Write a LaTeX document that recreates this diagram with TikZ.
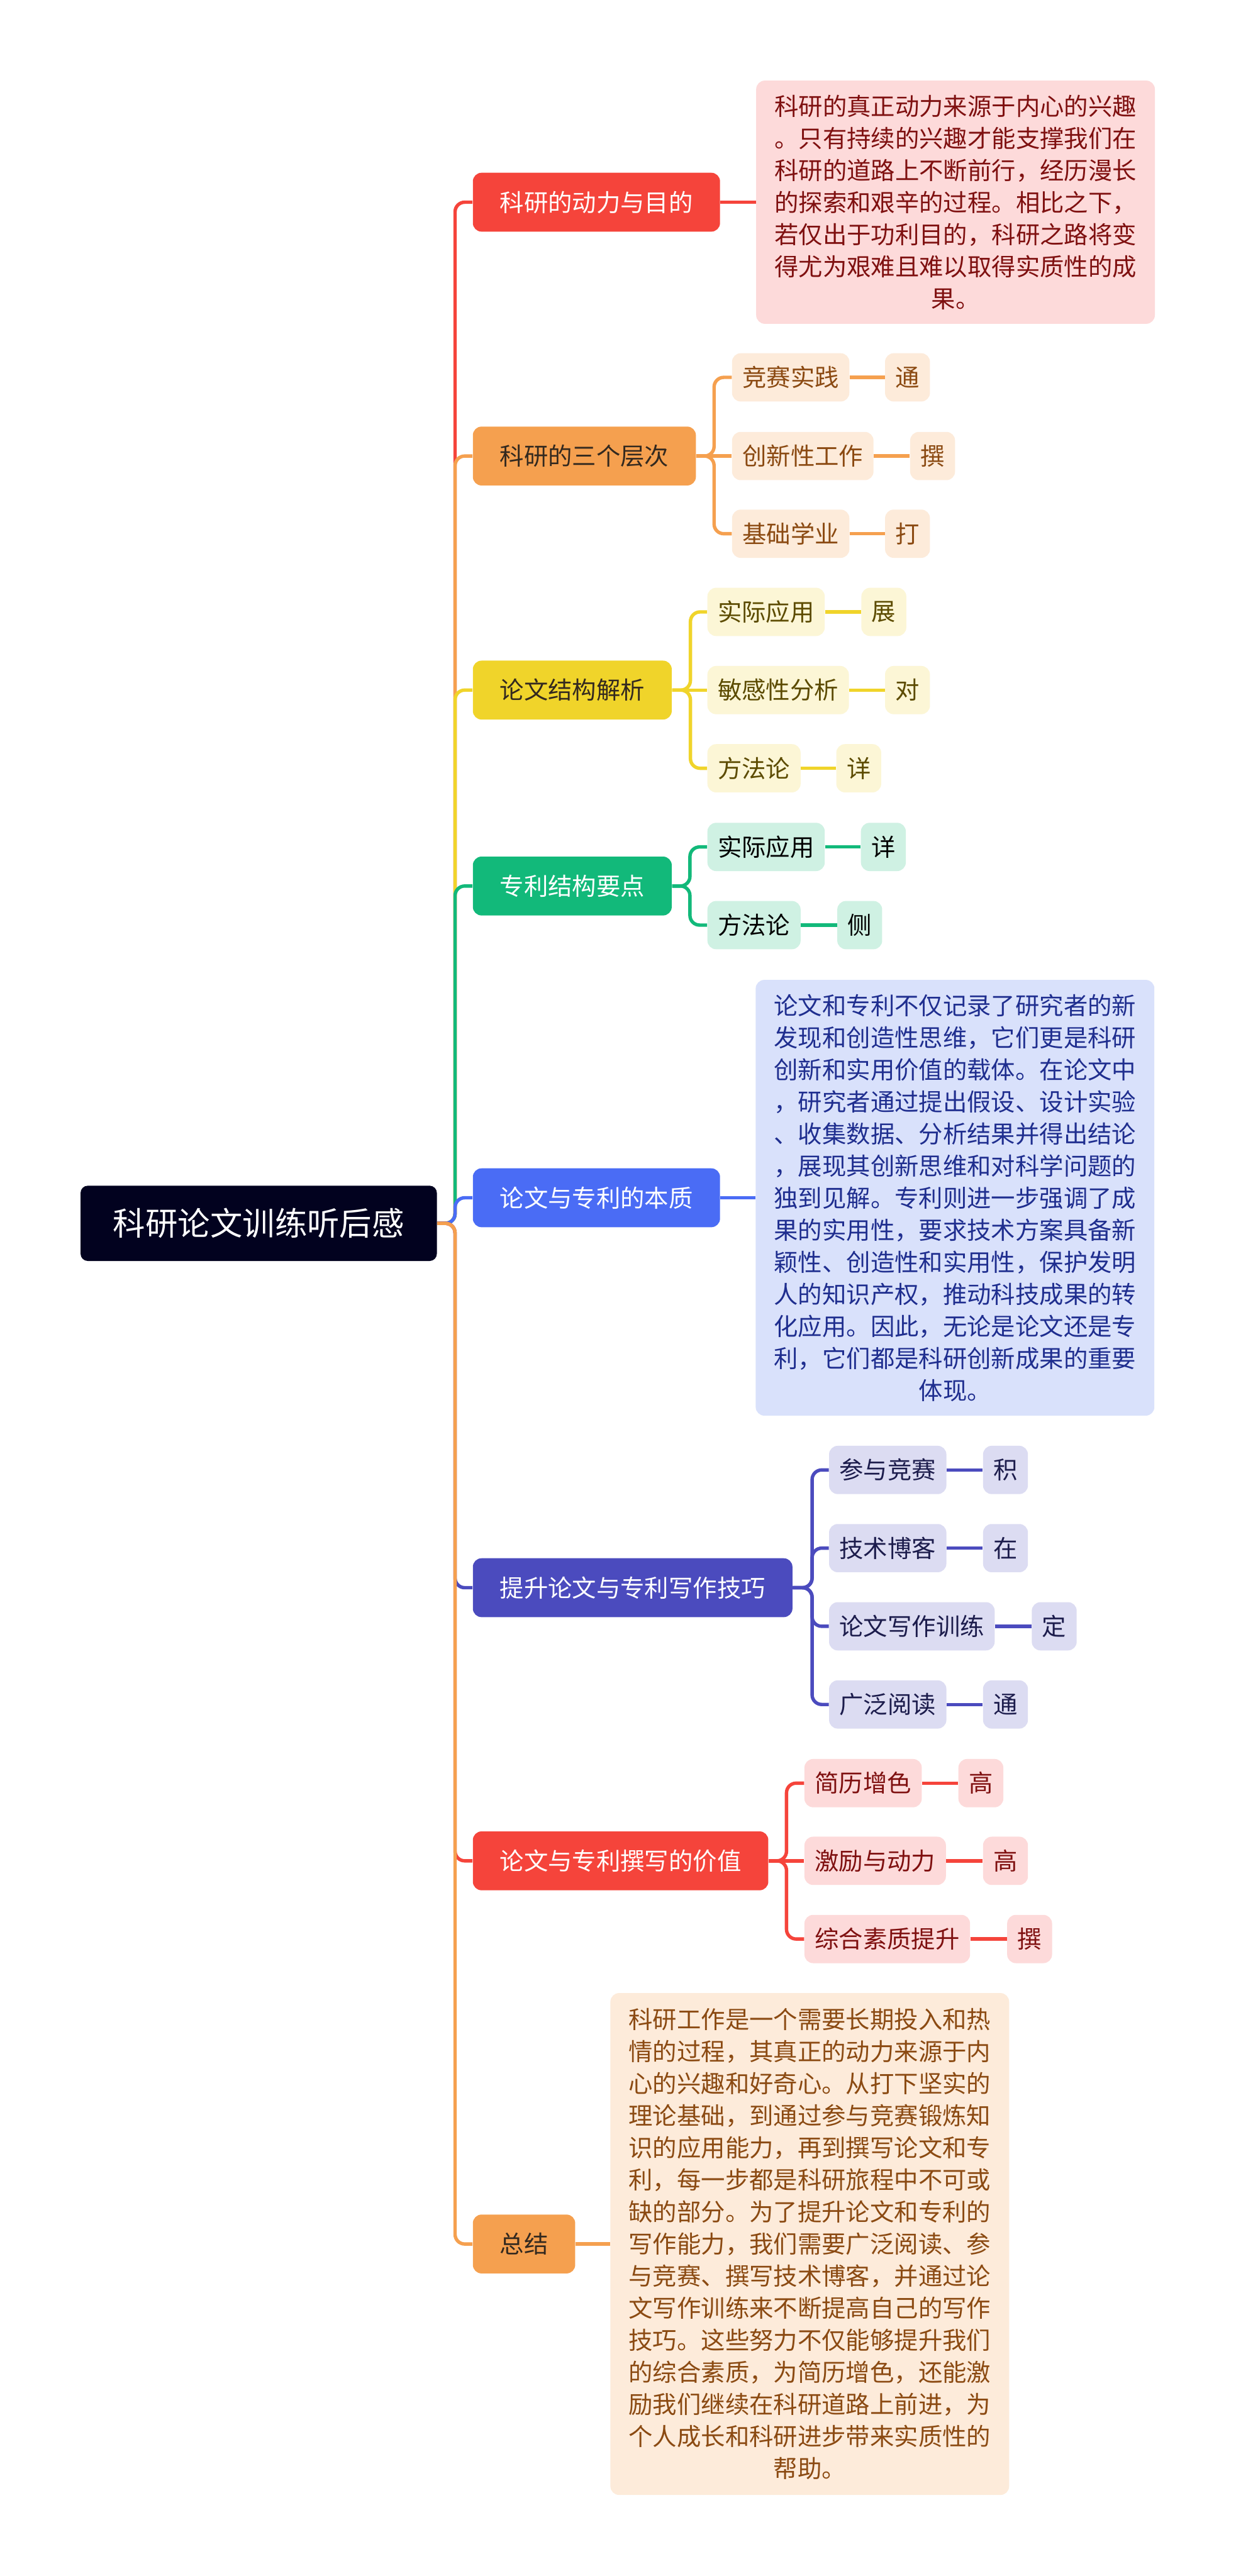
\documentclass[tikz,border=0pt]{standalone}
\usepackage{fontspec}
\newfontfamily\cjk{Noto Sans CJK SC}
\definecolor{rootdark}{HTML}{02021F}
\definecolor{bred}{HTML}{F5443B}
\definecolor{borange}{HTML}{F5A04F}
\definecolor{byellow}{HTML}{F0D42A}
\definecolor{bgreen}{HTML}{12B97A}
\definecolor{bblue}{HTML}{4A6CF5}
\definecolor{bindigo}{HTML}{4B4BBE}
\definecolor{lred}{HTML}{FDDADA}
\definecolor{lorange}{HTML}{FDEBDA}
\definecolor{lyellow}{HTML}{FCF6D6}
\definecolor{lgreen}{HTML}{CFF1E3}
\definecolor{lblue}{HTML}{D9E1FB}
\definecolor{lindigo}{HTML}{DCDCF2}
\definecolor{tred}{HTML}{7F1010}
\definecolor{torange}{HTML}{8B4A12}
\definecolor{tyellow}{HTML}{5C4B00}
\definecolor{tblue}{HTML}{1F2E8F}
\definecolor{tindigo}{HTML}{1C1C4C}
\definecolor{tdark}{HTML}{33291F}
\newcommand\bodyfont{\cjk\fontsize{14.23pt}{18.92pt}\selectfont}
\begin{document}
\begin{tikzpicture}[
  rootbox/.style={fill=rootdark, text=white, rounded corners=0.15cm, inner xsep=0.675cm, inner ysep=0pt, minimum height=1.56cm, font=\cjk\fontsize{19.07pt}{23pt}\selectfont},
  mainbox/.style={rounded corners=0.18cm, inner xsep=0.56cm, inner ysep=0pt, minimum height=1.22cm, anchor=west, font=\bodyfont},
  subbox/.style={rounded corners=0.18cm, inner xsep=0.215cm, inner ysep=0pt, minimum height=1cm, anchor=west, font=\bodyfont},
  notebox/.style={rounded corners=0.18cm, align=center, minimum width=8.26cm, inner sep=0pt, anchor=west, font=\bodyfont},
  link/.style={line width=2pt, rounded corners=0.2cm}
]
  \fill[white] (0,0) rectangle (25.6,-53.38);
  \useasboundingbox (0,0) rectangle (25.6,-53.38);
  % 根节点
  \node[rootbox] (root) at (5.36,-25.35) {科研论文训练听后感};
  % 一级分支
  \node[mainbox, fill=bred, text=white] (motive) at (9.79,-4.19) {科研的动力与目的};
  \node[mainbox, fill=borange, text=tdark] (levels) at (9.79,-9.45) {科研的三个层次};
  \node[mainbox, fill=byellow, text=tdark] (paper) at (9.79,-14.30) {论文结构解析};
  \node[mainbox, fill=bgreen, text=white] (patent) at (9.79,-18.36) {专利结构要点};
  \node[mainbox, fill=bblue, text=white] (essence) at (9.79,-24.82) {论文与专利的本质};
  \node[mainbox, fill=bindigo, text=white] (skills) at (9.79,-32.90) {提升论文与专利写作技巧};
  \node[mainbox, fill=bred, text=white] (value) at (9.79,-38.56) {论文与专利撰写的价值};
  \node[mainbox, fill=borange, text=tdark] (summary) at (9.79,-46.50) {总结};
  % 主干连线
  \draw[link, bred] (root.east) -- ++(0.37,0) |- (motive.west);
  \draw[link, borange] (root.east) -- ++(0.37,0) |- (levels.west);
  \draw[link, byellow] (root.east) -- ++(0.37,0) |- (paper.west);
  \draw[link, bgreen] (root.east) -- ++(0.37,0) |- (patent.west);
  \draw[link, bblue] (root.east) -- ++(0.37,0) |- (essence.west);
  \draw[link, bindigo] (root.east) -- ++(0.37,0) |- (skills.west);
  \draw[link, bred] (root.east) -- ++(0.37,0) |- (value.west);
  \draw[link, borange] (root.east) -- ++(0.37,0) |- (summary.west);
  % 科研的动力与目的
  \node[notebox, fill=lred, text=tred, minimum height=5.04cm] (motivenote) at (15.66,-4.19)
    {科研的真正动力来源于内心的兴趣\\。只有持续的兴趣才能支撑我们在\\科研的道路上不断前行，经历漫长\\的探索和艰辛的过程。相比之下，\\若仅出于功利目的，科研之路将变\\得尤为艰难且难以取得实质性的成\\果。};
  \draw[link, bred] (motive.east) -- (motivenote.west);
  % 科研的三个层次
  \node[subbox, fill=lorange, text=torange] (compete) at (15.16,-7.82) {竞赛实践};
  \node[subbox, fill=lorange, text=torange] (innovate) at (15.16,-9.45) {创新性工作};
  \node[subbox, fill=lorange, text=torange] (basics) at (15.16,-11.06) {基础学业};
  \node[subbox, fill=lorange, text=torange] (competex) at (18.33,-7.82) {通};
  \node[subbox, fill=lorange, text=torange] (innovatex) at (18.85,-9.45) {撰};
  \node[subbox, fill=lorange, text=torange] (basicsx) at (18.33,-11.06) {打};
  \draw[link, borange] (levels.east) -- ++(0.37,0) |- (compete.west);
  \draw[link, borange] (levels.east) -- (innovate.west);
  \draw[link, borange] (levels.east) -- ++(0.37,0) |- (basics.west);
  \draw[link, borange] (compete.east) -- (competex.west);
  \draw[link, borange] (innovate.east) -- (innovatex.west);
  \draw[link, borange] (basics.east) -- (basicsx.west);
  % 论文结构解析
  \node[subbox, fill=lyellow, text=tyellow] (papapp) at (14.65,-12.68) {实际应用};
  \node[subbox, fill=lyellow, text=tyellow] (papsens) at (14.65,-14.30) {敏感性分析};
  \node[subbox, fill=lyellow, text=tyellow] (papmeth) at (14.65,-15.92) {方法论};
  \node[subbox, fill=lyellow, text=tyellow] (papappx) at (17.84,-12.68) {展};
  \node[subbox, fill=lyellow, text=tyellow] (papsensx) at (18.33,-14.30) {对};
  \node[subbox, fill=lyellow, text=tyellow] (papmethx) at (17.32,-15.92) {详};
  \draw[link, byellow] (paper.east) -- ++(0.38,0) |- (papapp.west);
  \draw[link, byellow] (paper.east) -- (papsens.west);
  \draw[link, byellow] (paper.east) -- ++(0.38,0) |- (papmeth.west);
  \draw[link, byellow] (papapp.east) -- (papappx.west);
  \draw[link, byellow] (papsens.east) -- (papsensx.west);
  \draw[link, byellow] (papmeth.east) -- (papmethx.west);
  % 专利结构要点
  \node[subbox, fill=lgreen, text=black] (patapp) at (14.65,-17.55) {实际应用};
  \node[subbox, fill=lgreen, text=black] (patmeth) at (14.65,-19.17) {方法论};
  \node[subbox, fill=lgreen, text=black] (patappx) at (17.83,-17.55) {详};
  \node[subbox, fill=lgreen, text=black] (patmethx) at (17.34,-19.17) {侧};
  \draw[link, bgreen] (patent.east) -- ++(0.37,0) |- (patapp.west);
  \draw[link, bgreen] (patent.east) -- ++(0.37,0) |- (patmeth.west);
  \draw[link, bgreen] (patapp.east) -- (patappx.west);
  \draw[link, bgreen] (patmeth.east) -- (patmethx.west);
  % 论文与专利的本质
  \node[notebox, fill=lblue, text=tblue, minimum height=9.03cm] (essencenote) at (15.65,-24.82)
    {论文和专利不仅记录了研究者的新\\发现和创造性思维，它们更是科研\\创新和实用价值的载体。在论文中\\，研究者通过提出假设、设计实验\\、收集数据、分析结果并得出结论\\，展现其创新思维和对科学问题的\\独到见解。专利则进一步强调了成\\果的实用性，要求技术方案具备新\\颖性、创造性和实用性，保护发明\\人的知识产权，推动科技成果的转\\化应用。因此，无论是论文还是专\\利，它们都是科研创新成果的重要\\体现。};
  \draw[link, bblue] (essence.east) -- (essencenote.west);
  % 提升论文与专利写作技巧
  \node[subbox, fill=lindigo, text=tindigo] (contest) at (17.17,-30.46) {参与竞赛};
  \node[subbox, fill=lindigo, text=tindigo] (blog) at (17.17,-32.08) {技术博客};
  \node[subbox, fill=lindigo, text=tindigo] (training) at (17.17,-33.70) {论文写作训练};
  \node[subbox, fill=lindigo, text=tindigo] (reading) at (17.17,-35.32) {广泛阅读};
  \node[subbox, fill=lindigo, text=tindigo] (contestx) at (20.36,-30.46) {积};
  \node[subbox, fill=lindigo, text=tindigo] (blogx) at (20.36,-32.08) {在};
  \node[subbox, fill=lindigo, text=tindigo] (trainingx) at (21.37,-33.70) {定};
  \node[subbox, fill=lindigo, text=tindigo] (readingx) at (20.36,-35.32) {通};
  \draw[link, bindigo] (skills.east) -- ++(0.4,0) |- (contest.west);
  \draw[link, bindigo] (skills.east) -- ++(0.4,0) |- (blog.west);
  \draw[link, bindigo] (skills.east) -- ++(0.4,0) |- (training.west);
  \draw[link, bindigo] (skills.east) -- ++(0.4,0) |- (reading.west);
  \draw[link, bindigo] (contest.east) -- (contestx.west);
  \draw[link, bindigo] (blog.east) -- (blogx.west);
  \draw[link, bindigo] (training.east) -- (trainingx.west);
  \draw[link, bindigo] (reading.east) -- (readingx.west);
  % 论文与专利撰写的价值
  \node[subbox, fill=lred, text=tred] (resume) at (16.66,-36.95) {简历增色};
  \node[subbox, fill=lred, text=tred] (drive) at (16.66,-38.56) {激励与动力};
  \node[subbox, fill=lred, text=tred] (quality) at (16.66,-40.18) {综合素质提升};
  \node[subbox, fill=lred, text=tred] (resumex) at (19.85,-36.95) {高};
  \node[subbox, fill=lred, text=tred] (drivex) at (20.36,-38.56) {高};
  \node[subbox, fill=lred, text=tred] (qualityx) at (20.86,-40.18) {撰};
  \draw[link, bred] (value.east) -- ++(0.37,0) |- (resume.west);
  \draw[link, bred] (value.east) -- (drive.west);
  \draw[link, bred] (value.east) -- ++(0.37,0) |- (quality.west);
  \draw[link, bred] (resume.east) -- (resumex.west);
  \draw[link, bred] (drive.east) -- (drivex.west);
  \draw[link, bred] (quality.east) -- (qualityx.west);
  % 总结
  \node[notebox, fill=lorange, text=torange, minimum height=10.40cm] (summarynote) at (12.64,-46.50)
    {科研工作是一个需要长期投入和热\\情的过程，其真正的动力来源于内\\心的兴趣和好奇心。从打下坚实的\\理论基础，到通过参与竞赛锻炼知\\识的应用能力，再到撰写论文和专\\利，每一步都是科研旅程中不可或\\缺的部分。为了提升论文和专利的\\写作能力，我们需要广泛阅读、参\\与竞赛、撰写技术博客，并通过论\\文写作训练来不断提高自己的写作\\技巧。这些努力不仅能够提升我们\\的综合素质，为简历增色，还能激\\励我们继续在科研道路上前进，为\\个人成长和科研进步带来实质性的\\帮助。};
  \draw[link, borange] (summary.east) -- (summarynote.west);
\end{tikzpicture}
\end{document}
